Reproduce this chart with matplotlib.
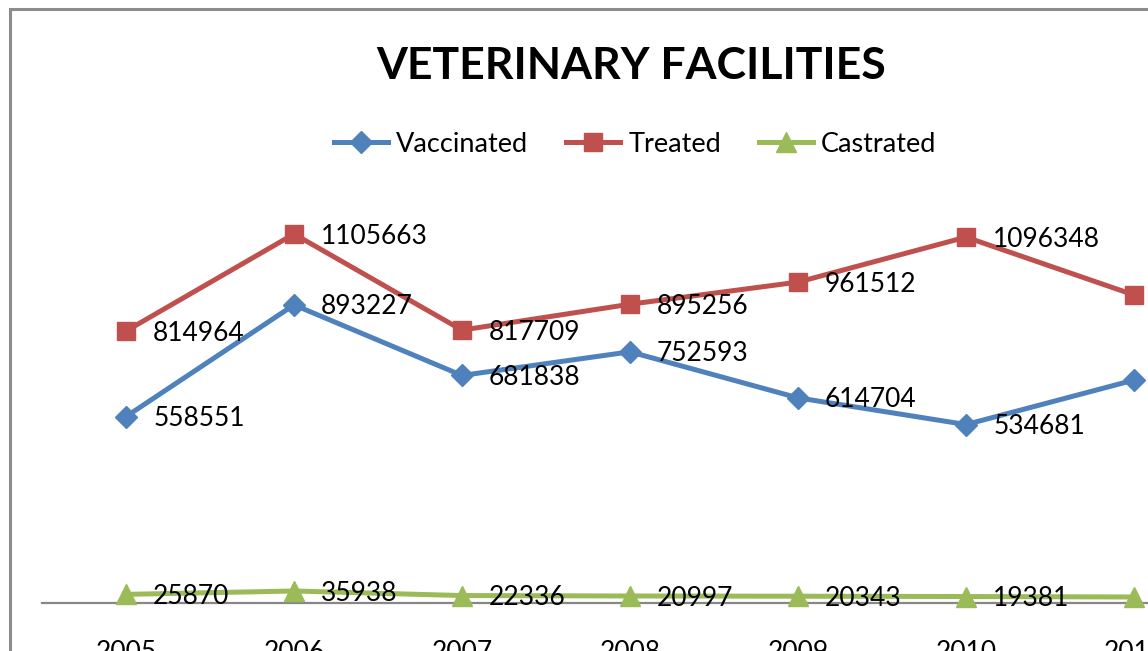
import matplotlib
matplotlib.use("Agg")
import matplotlib.pyplot as plt
from matplotlib.patches import Rectangle
from matplotlib.lines import Line2D

years = [2005, 2006, 2007, 2008, 2009, 2010, 2011]
vaccinated = [558551, 893227, 681838, 752593, 614704, 534681, 668000]
treated = [814964, 1105663, 817709, 895256, 961512, 1096348, 923000]
castrated = [25870, 35938, 22336, 20997, 20343, 19381, 18000]
series_names = ["Vaccinated", "Treated", "Castrated"]
colors = ["#4F81BD", "#C0504D", "#9BBB59"]
markers = ["D", "s", "^"]
msizes = [11, 13, 14]

W, H = 1148, 651
fig = plt.figure(figsize=(W / 100, H / 100), dpi=100)
FONT = "Lato"

# chart border
fig.patches.append(Rectangle((9.5 / W, -0.5), 2.0, 1 - 9.0 / H + 0.5, transform=fig.transFigure,
                             fill=False, edgecolor="#8C8C8C", linewidth=2.2, zorder=0))

ax_left, ax_bottom_px, px_per_unit = 42, 603, 369 / 1105663
ymax = 1.2e6
ax_h = ymax * px_per_unit
ax = fig.add_axes([ax_left / W, (H - ax_bottom_px) / H, (W - ax_left) / W + 0.01, ax_h / H])
ax.set_xlim(2004.5, 2004.5 + (W + 0.01 * W - ax_left) / 168)
ax.set_ylim(0, ymax)
for s in ["top", "right", "left"]:
    ax.spines[s].set_visible(False)
ax.spines["bottom"].set_color("#878787")
ax.spines["bottom"].set_linewidth(1.6)
ax.set_yticks([])
ax.set_xticks(years)
ax.set_xticklabels([str(y) for y in years], fontsize=19, fontfamily=FONT)
ax.tick_params(axis="x", length=0, pad=27)
ax.patch.set_alpha(0)

data = [vaccinated, treated, castrated]
for vals, c, m, ms in zip(data, colors, markers, msizes):
    ax.plot(years, vals, color=c, lw=3.6, marker=m, markersize=ms, clip_on=False, zorder=3)
for vals in data:
    for x, v in zip(years, vals):
        if x == 2011:
            continue
        ax.annotate(str(v), (x, v), xytext=(19.5, -1.5), textcoords="offset points",
                    ha="left", va="center", fontsize=19, fontfamily=FONT, zorder=5,
                    annotation_clip=False)

fig.text(631 / W, 1 - 66 / H, "VETERINARY FACILITIES", ha="center", va="center",
         fontsize=32, fontweight="bold", fontfamily=FONT)

handles = [Line2D([], [], color=c, lw=3.6, marker=m, markersize=ms)
           for c, m, ms in zip(colors, markers, msizes)]
fig.legend(handles, series_names, loc="center", bbox_to_anchor=(635 / W, 1 - 144 / H), ncol=3,
           frameon=False, prop={"family": FONT, "size": 19.5}, handlelength=2.0,
           handletextpad=0.3, columnspacing=1.4, borderpad=0)

fig.savefig("out.png", dpi=100)
